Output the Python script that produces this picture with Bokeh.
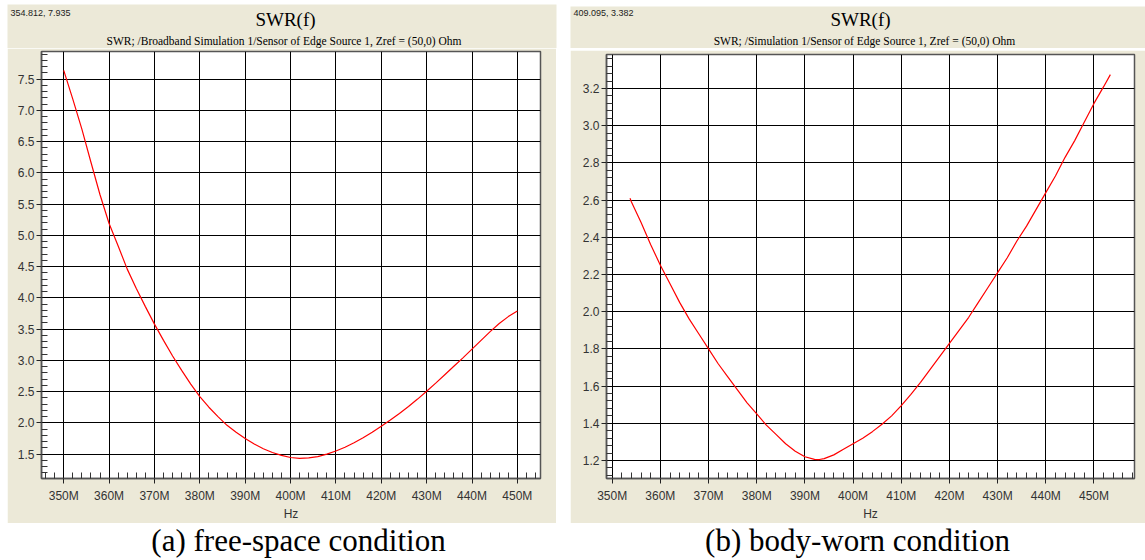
from bokeh.plotting import figure
from bokeh.models import FixedTicker, PrintfTickFormatter, Label, Spacer, Range1d, BoxAnnotation
from bokeh.layouts import row, column
from bokeh.embed import file_html
from bokeh.resources import INLINE

# ---------------- data ----------------
freq_a = [350, 352, 354, 356, 358, 360, 362, 364, 366, 368, 370, 372, 374, 376, 378,
          380, 382, 384, 386, 388, 390, 392, 394, 396, 398, 400, 402, 404, 406, 408,
          410, 412, 414, 416, 418, 420, 422, 424, 426, 428, 430, 432, 434, 436, 438,
          440, 442, 444, 446, 448, 450]
swr_a = [7.64, 7.18, 6.70, 6.17, 5.65, 5.19, 4.83, 4.46, 4.15, 3.86, 3.58, 3.32, 3.07, 2.84, 2.62,
         2.42, 2.25, 2.10, 1.96, 1.85, 1.75, 1.66, 1.585, 1.525, 1.48, 1.445, 1.43, 1.44, 1.46, 1.50,
         1.55, 1.61, 1.68, 1.76, 1.85, 1.945, 2.045, 2.15, 2.26, 2.38, 2.505, 2.635, 2.77, 2.905, 3.04,
         3.18, 3.32, 3.46, 3.59, 3.70, 3.79]

freq_b = [353.7, 354, 356, 358, 360, 362, 364, 366, 368, 370, 372, 374, 376, 378, 380,
          382, 384, 386, 388, 390, 392, 393, 394, 396, 398, 400, 402, 404, 406, 408,
          410, 412, 414, 416, 418, 420, 422, 424, 426, 428, 430, 432, 434, 436, 438,
          440, 442, 444, 446, 448, 450, 452, 453.4]
swr_b = [2.61, 2.59, 2.48, 2.36, 2.25, 2.15, 2.05, 1.96, 1.88, 1.80, 1.72, 1.65, 1.58, 1.51, 1.45,
         1.39, 1.34, 1.29, 1.25, 1.22, 1.206, 1.205, 1.21, 1.23, 1.26, 1.29, 1.32, 1.355, 1.395, 1.44,
         1.495, 1.555, 1.62, 1.69, 1.76, 1.83, 1.90, 1.97, 2.05, 2.13, 2.21, 2.29, 2.38, 2.46, 2.55,
         2.64, 2.73, 2.83, 2.92, 3.02, 3.12, 3.21, 3.275]

x_ticks = [350, 360, 370, 380, 390, 400, 410, 420, 430, 440, 450]
x_tick_labels = ["350M", "360M", "370M", "380M", "390M", "400M", "410M", "420M", "430M", "440M", "450M"]
y_ticks_a = [1.5, 2.0, 2.5, 3.0, 3.5, 4.0, 4.5, 5.0, 5.5, 6.0, 6.5, 7.0, 7.5]
y_ticks_b = [1.2, 1.4, 1.6, 1.8, 2.0, 2.2, 2.4, 2.6, 2.8, 3.0, 3.2]

x_range_a = (345.1, 455.1)
y_range_a = (1.109, 7.943)
x_range_b = (348.82, 458.41)
y_range_b = (1.103, 3.383)

title_text = "SWR(f)"
subtitle_a = "SWR; /Broadband Simulation 1/Sensor of Edge Source 1, Zref = (50,0) Ohm"
subtitle_b = "SWR; /Simulation 1/Sensor of Edge Source 1, Zref = (50,0) Ohm"
cursor_a = "354.812, 7.935"
cursor_b = "409.095, 3.382"
caption_a = "(a) free-space condition"
caption_b = "(b) body-worn condition"

BEIGE = "#ECE9D8"
GRID = "#000000"
OUTLINE = "#555555"


def make_panel(freq, swr, xr, yr, yticks, yminor, xminor, w, h, bl, br, bt, bb):
    p = figure(width=w, height=h, x_range=Range1d(*xr), y_range=Range1d(*yr),
               toolbar_location=None, output_backend="svg", title=None,
               min_border_left=bl, min_border_right=br, min_border_top=bt, min_border_bottom=bb)
    p.background_fill_color = "white"
    p.border_fill_color = BEIGE
    p.outline_line_color = OUTLINE
    p.outline_line_width = 1.5

    xt = FixedTicker(ticks=x_ticks, minor_ticks=xminor)
    yt = FixedTicker(ticks=yticks, minor_ticks=yminor)
    p.xaxis.ticker = xt
    p.yaxis.ticker = yt
    p.xgrid.ticker = xt
    p.ygrid.ticker = yt
    p.xaxis.major_label_overrides = {t: l for t, l in zip(x_ticks, x_tick_labels)}
    p.yaxis.formatter = PrintfTickFormatter(format="%.1f")

    for ax in (p.xaxis[0], p.yaxis[0]):
        ax.axis_line_color = OUTLINE
        ax.axis_line_width = 1.5
        ax.major_tick_out = 5
        ax.major_tick_in = 0
        ax.minor_tick_in = 6
        ax.minor_tick_out = 0
        ax.major_tick_line_color = "#222222"
        ax.minor_tick_line_color = "#333333"
        ax.major_label_text_font = "Liberation Sans"
        ax.major_label_text_font_size = "12px"
        ax.major_label_text_color = "#333333"
    p.xaxis.major_label_standoff = 5
    p.yaxis.major_label_standoff = 2
    p.xaxis.axis_label = "Hz"
    p.xaxis.axis_label_text_font = "Liberation Sans"
    p.xaxis.axis_label_text_font_size = "12px"
    p.xaxis.axis_label_text_font_style = "normal"
    p.xaxis.axis_label_text_color = "#333333"
    p.xaxis.axis_label_standoff = 1

    p.xgrid.grid_line_color = GRID
    p.ygrid.grid_line_color = GRID
    p.xgrid.grid_line_width = 1
    p.ygrid.grid_line_width = 1

    p.line(freq, swr, line_color="#FF0000", line_width=1.2)
    return p


xminor_a = [v for v in range(346, 455, 2) if v % 10 != 0]
xminor_b = [v for v in range(350, 459, 2) if v % 10 != 0]
yminor_a = [round(k * 0.1, 1) for k in range(12, 80) if k % 5 != 0]
yminor_b = [round(k * 0.04, 2) for k in range(28, 85) if k % 5 != 0]

# ---- full-width header (page pixels: x 0..1145, y measured up from header bottom) ----
head = figure(width=1145, height=48, x_range=Range1d(0, 1145), y_range=Range1d(0, 48),
              toolbar_location=None, output_backend="svg", title=None,
              x_axis_location=None, y_axis_location=None, min_border=0)
head.grid.visible = False
head.outline_line_color = None
head.background_fill_color = "white"
head.border_fill_color = "white"
head.add_layout(BoxAnnotation(left=7, right=556, bottom=0, top=44, fill_color=BEIGE,
                              fill_alpha=1.0, line_color=None))
head.add_layout(BoxAnnotation(left=570, right=1145, bottom=0, top=42, fill_color=BEIGE,
                              fill_alpha=1.0, line_color=None))
for cx, cur, tx, sub, sx in ((10, cursor_a, 285, subtitle_a, 283.5),
                             (573, cursor_b, 860, subtitle_b, 864)):
    head.add_layout(Label(x=cx, y=36, text=cur, text_font="Liberation Sans",
                          text_font_size="9px", text_color="#222222",
                          text_baseline="middle", text_align="left"))
    head.add_layout(Label(x=tx, y=29.3, text=title_text, text_font="Liberation Serif",
                          text_font_size="19px", text_color="#000000",
                          text_baseline="middle", text_align="center"))
    head.add_layout(Label(x=sx, y=7.5, text=sub, text_font="Liberation Serif",
                          text_font_size="11.5px", text_color="#000000",
                          text_baseline="middle", text_align="center"))

fig_a = make_panel(freq_a, swr_a, x_range_a, y_range_a, y_ticks_a, yminor_a, xminor_a,
                   549, 475, 34, 16, 3, 40)
fig_b = make_panel(freq_b, swr_b, x_range_b, y_range_b, y_ticks_b, yminor_b, xminor_b,
                   575, 473, 36, 11, 4, 39)

cap = figure(width=1145, height=37, x_range=Range1d(0, 1145), y_range=Range1d(0, 37),
             toolbar_location=None, output_backend="svg", title=None,
             x_axis_location=None, y_axis_location=None, min_border=0)
cap.grid.visible = False
cap.outline_line_color = None
cap.background_fill_color = "white"
cap.border_fill_color = "white"
cap.add_layout(Label(x=298, y=20.2, text=caption_a, text_font="Liberation Serif",
                     text_font_size="31px", text_color="#000000", text_align="center",
                     text_baseline="middle"))
cap.add_layout(Label(x=857, y=20.2, text=caption_b, text_font="Liberation Serif",
                     text_font_size="31px", text_color="#000000", text_align="center",
                     text_baseline="middle"))

middle = row(Spacer(width=7, height=475),
             column(fig_a),
             Spacer(width=14, height=475),
             column(Spacer(width=575, height=2), fig_b))
page = column(head, middle, cap)

open("out.html", "w").write(file_html(page, INLINE))
